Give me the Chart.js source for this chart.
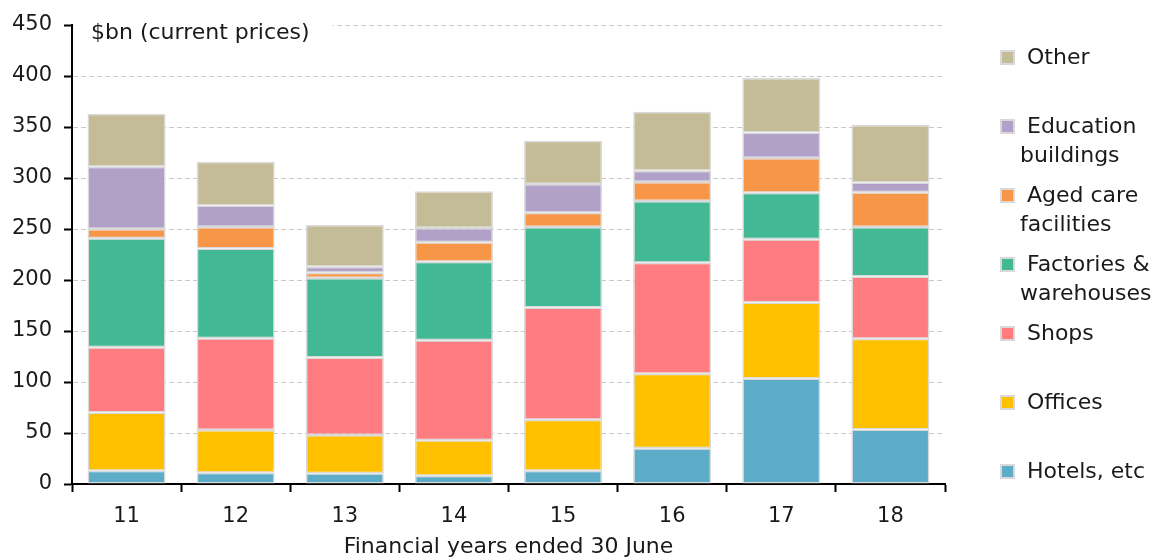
<!DOCTYPE html>
<html>
<head>
<meta charset="utf-8">
<script src="https://cdn.jsdelivr.net/npm/chart.js@4"></script>
<style>
  body { margin: 0; background: #fff; }
</style>
</head>
<body>
<canvas id="buildChart" width="1161" height="560"></canvas>

<script>
  // financial years ended 30 June ($bn, current prices)
  const years = ["11", "12", "13", "14", "15", "16", "17", "18"];
  const hotels = [13, 11, 10.5, 8, 13, 35, 103.5, 53.5];
  const offices = [57, 42, 37.5, 35, 50, 73, 74.5, 89];
  const shops = [64, 90, 76, 98, 110, 109, 62, 61];
  const factories = [107, 88, 78, 77, 79, 60.5, 45.5, 48.5];
  const agedCare = [9, 21, 5, 19, 14, 18.5, 34, 34];
  const education = [61, 21, 6, 14, 28, 11, 25, 9.5];
  const other = [52, 43, 41, 36, 42.5, 58, 53.5, 56.5];
  const yTicks = [0, 50, 100, 150, 200, 250, 300, 350, 400, 450];

  const FONT = "'DejaVu Sans', sans-serif";

  const series = [
    { label: ["Hotels, etc"], data: hotels, color: "#5DADC8" },
    { label: ["Offices"], data: offices, color: "#FFC000" },
    { label: ["Shops"], data: shops, color: "#FF7C80" },
    { label: ["Factories &", "warehouses"], data: factories, color: "#43B895" },
    { label: ["Aged care", "facilities"], data: agedCare, color: "#F79646" },
    { label: ["Education", "buildings"], data: education, color: "#B1A0C7" },
    { label: ["Other"], data: other, color: "#C4BC96" },
  ];

  // title box in the top-left of the plot + legend down the right side
  const extras = {
    id: "extras",
    afterDraw(chart) {
      const ctx = chart.ctx;
      const area = chart.chartArea;
      ctx.save();
      ctx.font = "22px " + FONT;
      ctx.textBaseline = "middle";
      const title = "$bn (current prices)";
      const tw = ctx.measureText(title).width;
      ctx.fillStyle = "#fff";
      ctx.fillRect(area.left + 2, area.top - 4, tw + 40, 26);
      ctx.fillStyle = "#1a1a1a";
      ctx.fillText(title, area.left + 19, area.top + 8);

      // legend, top item = last dataset
      const items = series.slice().reverse();
      const x0 = area.right + 56;
      const step = (area.bottom - area.top - 45) / (items.length - 1);
      items.forEach((s, i) => {
        const y = area.top + 33 + i * step;
        ctx.fillStyle = "#d9d9d9";
        ctx.fillRect(x0 - 1, y - 8, 15, 15);
        ctx.fillStyle = s.color;
        ctx.fillRect(x0 + 1, y - 6, 11, 11);
        ctx.fillStyle = "#1a1a1a";
        s.label.forEach((line, j) => {
          ctx.fillText(line, j === 0 ? x0 + 26 : x0 + 19, y + j * 29);
        });
      });
      ctx.restore();
    },
  };

  const ctx = document.getElementById("buildChart").getContext("2d");
  new Chart(ctx, {
    type: "bar",
    data: {
      labels: years,
      datasets: series.map((s) => ({
        label: s.label.join(" "),
        data: s.data,
        backgroundColor: s.color,
        borderColor: "#d9d9d9",
        borderWidth: 1.5,
        borderSkipped: false,
        barPercentage: 0.715,
        categoryPercentage: 1,
      })),
    },
    options: {
      responsive: false,
      animation: false,
      layout: { padding: { left: 0, right: 216, top: 25, bottom: 0 } },
      plugins: {
        legend: { display: false },
        tooltip: { enabled: false },
      },
      scales: {
        x: {
          stacked: true,
          afterFit: (s) => { s.height = 76; },
          grid: {
            offset: true,
            drawOnChartArea: false,
            tickLength: 8,
            tickColor: "#000",
            tickWidth: 2,
          },
          border: { color: "#000", width: 2 },
          ticks: { color: "#1a1a1a", font: { family: FONT, size: 21 }, padding: 12 },
          title: {
            display: true,
            text: "Financial years ended 30 June",
            color: "#1a1a1a",
            font: { family: FONT, size: 22 },
            padding: { top: 0, bottom: 0 },
          },
        },
        y: {
          stacked: true,
          min: 0,
          max: 450,
          afterFit: (s) => { s.width = 72; },
          afterBuildTicks: (s) => { s.ticks = yTicks.map((v) => ({ value: v })); },
          grid: {
            color: "#c8c8c8",
            lineWidth: 1,
            tickLength: 8,
            tickColor: "#000",
            tickWidth: 2,
          },
          border: { color: "#000", width: 2, dash: [5, 3] },
          ticks: { color: "#1a1a1a", font: { family: FONT, size: 21 }, padding: 12 },
        },
      },
    },
    plugins: [extras],
  });
</script>
</body>
</html>
